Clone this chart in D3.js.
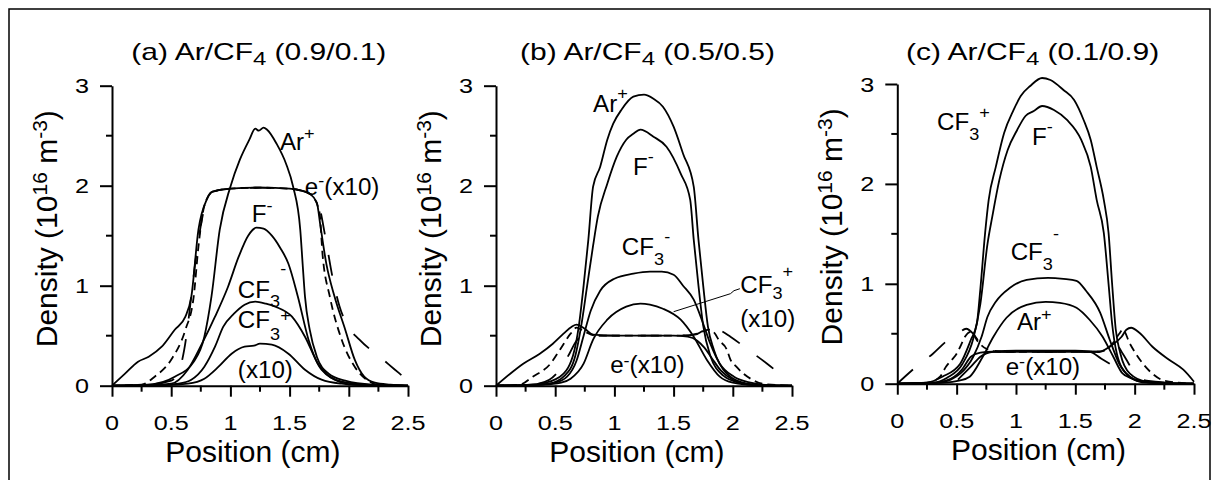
<!DOCTYPE html>
<meta charset="utf-8">
<style>
 body { margin: 0; background: #fff; }
 text { font-family: Arial, "Liberation Sans", sans-serif; fill: #000; }
 .curve { fill: none; stroke: #000; stroke-width: 1.8; stroke-linejoin: round; }
 .axis path, .axis line { stroke: #000; stroke-width: 2; }
</style>
<body>
<div id="chart"></div>
<script src="https://d3js.org/d3.v7.min.js"></script>
<script>
// tick values
var xTicks = [0, 0.5, 1, 1.5, 2, 2.5];
var xMinor = [0.25, 0.75, 1.25, 1.75, 2.25];
var yTicks = [0, 1, 2, 3];
var yMinor = [0.5, 1.5, 2.5];

// ---- panel (a) Ar/CF4 0.9/0.1 ----
var aArp = [[0,0],[0.3,0.01],[0.53,0.09],[0.69,0.24],[0.78,0.49],[0.84,0.89],[0.91,1.56],[1.0,1.99],[1.08,2.26],[1.16,2.46],[1.21,2.57],[1.24,2.55],[1.28,2.58],[1.31,2.56],[1.39,2.42],[1.47,2.22],[1.53,1.99],[1.59,1.56],[1.61,1.22],[1.63,0.89],[1.67,0.56],[1.73,0.29],[1.83,0.12],[1.97,0.05],[2.2,0.01],[2.5,0]];
var aFm = [[0,0],[0.3,0.005],[0.5,0.02],[0.64,0.16],[0.76,0.42],[0.87,0.69],[0.98,0.99],[1.07,1.29],[1.15,1.5],[1.22,1.58],[1.28,1.57],[1.35,1.5],[1.42,1.38],[1.49,1.22],[1.57,0.89],[1.66,0.46],[1.77,0.16],[1.94,0.04],[2.2,0.005],[2.5,0]];
var aCF3m = [[0,0],[0.4,0.005],[0.56,0.02],[0.67,0.06],[0.78,0.19],[0.87,0.39],[0.94,0.59],[1.03,0.72],[1.12,0.81],[1.21,0.84],[1.3,0.82],[1.38,0.79],[1.52,0.69],[1.63,0.49],[1.74,0.22],[1.88,0.06],[2.05,0.01],[2.5,0]];
var aCF3p = [[0,0],[0.45,0.005],[0.64,0.02],[0.78,0.07],[0.9,0.19],[1.01,0.32],[1.12,0.39],[1.2,0.4],[1.25,0.42],[1.35,0.41],[1.49,0.32],[1.63,0.16],[1.77,0.06],[1.94,0.02],[2.2,0.003],[2.5,0]];
var aESolid = [[0,0],[0.11,0.12],[0.22,0.24],[0.31,0.29],[0.42,0.39],[0.53,0.56],[0.62,0.69],[0.67,0.89],[0.73,1.56],[0.8,1.86],[0.85,1.94],[1.0,1.97],[1.25,1.98],[1.5,1.97],[1.6,1.95],[1.67,1.92],[1.73,1.83],[1.76,1.6],[1.81,1.22],[1.88,0.89],[1.97,0.56],[2.05,0.26],[2.13,0.09],[2.22,0.03],[2.35,0.01],[2.5,0]];
var aELong = [[0,0],[0.3,0.01],[0.5,0.05],[0.58,0.2],[0.61,0.36],[0.64,0.6],[0.67,0.9],[0.71,1.29],[0.75,1.6],[0.8,1.86],[0.85,1.94],[1.0,1.97],[1.25,1.98],[1.5,1.97],[1.67,1.92],[1.75,1.79],[1.8,1.5],[1.86,1.1],[1.92,0.8],[1.98,0.62],[2.09,0.46],[2.26,0.29],[2.39,0.16],[2.46,0.09]];
var aEShort = [[0,0],[0.25,0.01],[0.36,0.09],[0.5,0.26],[0.62,0.56],[0.69,0.89],[0.73,1.39],[0.78,1.8],[0.85,1.94],[1.0,1.97],[1.25,1.98],[1.5,1.97],[1.67,1.92],[1.75,1.75],[1.78,1.29],[1.84,0.89],[1.94,0.46],[2.05,0.19],[2.14,0.07],[2.25,0.01],[2.5,0]];

// ---- panel (b) Ar/CF4 0.5/0.5 ----
var bArp = [[0,0],[0.2,0.005],[0.37,0.02],[0.54,0.09],[0.65,0.3],[0.7,0.6],[0.74,1.0],[0.78,1.46],[0.82,1.99],[0.88,2.19],[0.94,2.46],[0.99,2.62],[1.06,2.76],[1.16,2.89],[1.25,2.91],[1.33,2.87],[1.41,2.79],[1.5,2.59],[1.58,2.32],[1.67,1.99],[1.71,1.46],[1.75,1.0],[1.79,0.59],[1.84,0.36],[1.95,0.12],[2.12,0.02],[2.3,0.003],[2.5,0]];
var bFm = [[0,0],[0.3,0.005],[0.45,0.02],[0.58,0.1],[0.67,0.3],[0.72,0.6],[0.77,1.0],[0.82,1.4],[0.86,1.69],[0.94,2.02],[1.02,2.29],[1.1,2.46],[1.16,2.52],[1.22,2.56],[1.33,2.49],[1.44,2.39],[1.56,2.12],[1.64,1.86],[1.67,1.46],[1.71,1.0],[1.75,0.6],[1.81,0.3],[1.92,0.1],[2.05,0.03],[2.2,0.005],[2.5,0]];
var bCF3m = [[0,0],[0.35,0.01],[0.5,0.03],[0.6,0.09],[0.68,0.25],[0.74,0.5],[0.8,0.75],[0.88,0.95],[1.0,1.07],[1.16,1.12],[1.3,1.14],[1.4,1.14],[1.5,1.11],[1.58,1.0],[1.67,0.86],[1.75,0.62],[1.81,0.42],[1.89,0.22],[2.01,0.09],[2.15,0.03],[2.3,0.005],[2.5,0]];
var bCF3p = [[0,0],[0.4,0.01],[0.55,0.03],[0.63,0.07],[0.74,0.22],[0.82,0.46],[0.94,0.66],[1.1,0.79],[1.22,0.82],[1.3,0.81],[1.41,0.77],[1.56,0.66],[1.67,0.49],[1.78,0.26],[1.89,0.09],[2.0,0.03],[2.2,0.005],[2.5,0]];
var bESolid = [[0,0],[0.12,0.12],[0.23,0.22],[0.37,0.32],[0.48,0.42],[0.57,0.52],[0.64,0.59],[0.68,0.61],[0.75,0.57],[0.82,0.51],[1.0,0.5],[1.5,0.5],[1.62,0.49],[1.7,0.45],[1.76,0.38],[1.82,0.28],[1.9,0.15],[2.0,0.06],[2.15,0.01],[2.5,0]];
var bELong = [[0,0],[0.3,0.01],[0.45,0.06],[0.55,0.18],[0.62,0.32],[0.68,0.45],[0.75,0.5],[1.0,0.5],[1.5,0.5],[1.68,0.51],[1.75,0.55],[1.83,0.58],[1.9,0.55],[1.98,0.49],[2.13,0.36],[2.29,0.22],[2.43,0.09],[2.47,0.06]];
var bEShort = [[0,0],[0.2,0.01],[0.31,0.09],[0.46,0.22],[0.54,0.36],[0.63,0.52],[0.68,0.58],[0.75,0.54],[0.85,0.5],[1.6,0.5],[1.7,0.52],[1.8,0.56],[1.85,0.52],[1.88,0.46],[1.95,0.36],[1.98,0.26],[2.03,0.19],[2.09,0.12],[2.15,0.07],[2.25,0.02],[2.5,0]];

// ---- panel (c) Ar/CF4 0.1/0.9 ----
var cCF3p = [[0,0],[0.25,0.01],[0.38,0.07],[0.53,0.2],[0.62,0.44],[0.67,0.6],[0.7,0.95],[0.74,1.51],[0.77,1.84],[0.83,2.17],[0.9,2.51],[0.98,2.74],[1.04,2.88],[1.12,2.98],[1.22,3.06],[1.29,3.04],[1.4,2.94],[1.49,2.84],[1.57,2.64],[1.63,2.44],[1.68,2.17],[1.74,1.84],[1.78,1.51],[1.81,1.0],[1.84,0.55],[1.88,0.3],[1.96,0.1],[2.1,0.02],[2.3,0.005],[2.5,0]];
var cFm = [[0,0],[0.3,0.01],[0.42,0.06],[0.55,0.2],[0.64,0.45],[0.7,0.8],[0.76,1.4],[0.8,1.67],[0.86,2.04],[0.93,2.34],[1.01,2.54],[1.08,2.68],[1.15,2.73],[1.22,2.78],[1.32,2.74],[1.43,2.64],[1.55,2.44],[1.63,2.17],[1.68,1.84],[1.74,1.51],[1.78,1.0],[1.81,0.6],[1.85,0.3],[1.93,0.1],[2.05,0.02],[2.3,0.005],[2.5,0]];
var cCF3m = [[0,0],[0.35,0.01],[0.45,0.04],[0.53,0.1],[0.64,0.27],[0.71,0.47],[0.76,0.67],[0.83,0.82],[0.95,0.96],[1.09,1.04],[1.27,1.06],[1.4,1.05],[1.51,1.03],[1.59,0.93],[1.71,0.71],[1.79,0.44],[1.87,0.2],[1.96,0.07],[2.1,0.01],[2.5,0]];
var cArp = [[0,0],[0.4,0.01],[0.52,0.03],[0.61,0.07],[0.72,0.27],[0.81,0.47],[0.92,0.66],[1.09,0.79],[1.25,0.82],[1.37,0.81],[1.51,0.76],[1.62,0.64],[1.73,0.47],[1.82,0.27],[1.9,0.1],[2.01,0.04],[2.2,0.005],[2.5,0]];
var cESolid = [[0,0],[0.3,0.01],[0.45,0.05],[0.55,0.15],[0.62,0.27],[0.7,0.31],[0.8,0.32],[1.7,0.32],[1.8,0.38],[1.89,0.47],[1.93,0.54],[1.97,0.56],[2.04,0.51],[2.15,0.37],[2.29,0.24],[2.41,0.14],[2.5,0.02]];
var cELong = [[0,0],[0.16,0.17],[0.3,0.3],[0.43,0.44],[0.51,0.5],[0.58,0.55],[0.64,0.5],[0.7,0.4],[0.78,0.34],[0.9,0.32],[1.7,0.32],[1.78,0.34],[1.85,0.38],[1.9,0.3],[1.95,0.2],[2.0,0.1],[2.1,0.03],[2.5,0]];
var cETrunc = [[0.51,0.04],[0.62,0.17],[0.7,0.27],[0.81,0.32],[1.0,0.33],[1.5,0.33],[1.62,0.32],[1.72,0.25],[1.79,0.2]];
var cEShort = [[0,0],[0.25,0.01],[0.36,0.07],[0.41,0.17],[0.46,0.24],[0.5,0.3],[0.53,0.37],[0.57,0.47],[0.62,0.52],[0.68,0.42],[0.75,0.35],[0.85,0.32],[1.7,0.32],[1.8,0.38],[1.87,0.5],[1.9,0.54],[1.96,0.4],[2.01,0.3],[2.07,0.2],[2.15,0.1],[2.25,0.03],[2.5,0]];

// leader line for the CF3+ label in (b)
var bLeader = [[1.5,0.74],[1.98,0.92],[2.01,0.95],[2.06,0.97]];

var titles = [
  ["(a) Ar/CF", "4", " (0.9/0.1)"],
  ["(b) Ar/CF", "4", " (0.5/0.5)"],
  ["(c) Ar/CF", "4", " (0.1/0.9)"]
];

(function(){
  var width = 1214, height = 480;
  var LONG = "21,21", SHORT = "8,5";

  var panels = [
    { left: 112, right: 408, top: 85.7, bottom: 385.7, titleX: 1.24,
      curves: [[aArp], [aFm], [aCF3m], [aCF3p], [aESolid], [aELong, LONG], [aEShort, SHORT]],
      labels: [
        [1.418, 2.357, [["Ar",1,0],["+",0.75,-11.5]]],
        [1.629, 1.907, [["e",1,0],["-",0.75,-8.7],["(x10)",1,0]]],
        [1.181, 1.64, [["F",1,0],["-",0.75,-10.7]]],
        [1.063, 0.877, [["CF",1,0],["3",0.75,8.7],["-",0.75,-23.7]]],
        [1.063, 0.577, [["CF",1,0],["3",0.75,12],["+",0.75,-7.5]]],
        [1.063, 0.077, [["(x10)",1,0]]]
      ] },
    { left: 496, right: 792, top: 85.7, bottom: 385.7, titleX: 1.28,
      curves: [[bArp], [bFm], [bCF3m], [bCF3p], [bESolid], [bELong, LONG], [bEShort, SHORT]],
      leader: bLeader,
      labels: [
        [0.82, 2.74, [["Ar",1,0],["+",0.75,-13.2]]],
        [1.158, 2.107, [["F",1,0],["-",0.75,-12.7]]],
        [1.063, 1.307, [["CF",1,0],["3",0.75,10],["-",0.75,-12.7]]],
        [2.063, 0.924, [["CF",1,0],["3",0.75,6],["+",0.75,-16]]],
        [2.063, 0.587, [["(x10)",1,0]]],
        [0.964, 0.124, [["e",1,0],["-",0.75,-7.3],["(x10)",1,0]]]
      ] },
    { left: 897.3, right: 1194, top: 84, bottom: 383.7, titleX: 1.14,
      curves: [[cCF3p], [cFm], [cCF3m], [cArp], [cESolid], [cETrunc], [cELong, LONG], [cEShort, SHORT]],
      labels: [
        [0.334, 2.542, [["CF",1,0],["3",0.75,10],["+",0.75,-11.5]]],
        [1.135, 2.392, [["F",1,0],["-",0.75,-12.7]]],
        [0.955, 1.239, [["CF",1,0],["3",0.75,10],["-",0.75,-20.7]]],
        [1.008, 0.538, [["Ar",1,0],["+",0.75,-9.5]]],
        [0.913, 0.087, [["e",1,0],["-",0.75,-7.7],["(x10)",1,0]]]
      ] }
  ];

  var svg = d3.select("#chart").append("svg")
      .attr("width", width)
      .attr("height", height);

  svg.append("rect")
      .attr("x", 9).attr("y", 9)
      .attr("width", 1201).attr("height", 490)
      .attr("fill", "none").attr("stroke", "#000").attr("stroke-width", 1.5);

  function addLabel(g, px, py, parts, size, sx) {
    var t = g.append("text")
        .attr("transform", "translate(" + px + "," + py + ") scale(" + sx + ",1)")
        .style("font-size", size + "px");
    var cur = 0;
    parts.forEach(function(p) {
      t.append("tspan").attr("dy", p[2] - cur)
          .style("font-size", (p[1] * size) + "px").text(p[0]);
      cur = p[2];
    });
    return t;
  }

  panels.forEach(function(p, i) {
    var x = d3.scaleLinear().domain([0, 2.5]).range([p.left, p.right]);
    var y = d3.scaleLinear().domain([0, 3]).range([p.bottom, p.top]);
    var g = svg.append("g");

    // axes
    var xa = g.append("g").attr("class", "axis")
        .attr("transform", "translate(0," + p.bottom + ")")
        .call(d3.axisBottom(x).tickValues(xTicks).tickSize(11).tickSizeOuter(0).tickFormat(""));
    xa.append("g").selectAll("line").data(xMinor).enter().append("line")
        .attr("x1", x).attr("x2", x).attr("y1", 0).attr("y2", 6)
        .attr("stroke", "#000").attr("stroke-width", 2);
    var ya = g.append("g").attr("class", "axis")
        .attr("transform", "translate(" + p.left + ",0)")
        .call(d3.axisLeft(y).tickValues(yTicks).tickSize(12).tickSizeOuter(0).tickFormat(""));
    ya.append("g").selectAll("line").data(yMinor).enter().append("line")
        .attr("y1", y).attr("y2", y).attr("x1", 0).attr("x2", -6)
        .attr("stroke", "#000").attr("stroke-width", 2);

    // tick labels
    xTicks.forEach(function(v) {
      addLabel(g, x(v), p.bottom + 44, [[d3.format("")(v), 1, 0]], 21, 1.2)
          .attr("text-anchor", "middle");
    });
    yTicks.forEach(function(v) {
      addLabel(g, p.left - 23, y(v) + 7.5, [[String(v), 1, 0]], 21, 1.2)
          .attr("text-anchor", "end");
    });

    // axis titles
    g.append("text")
        .attr("x", x(1.19)).attr("y", p.bottom + 76)
        .attr("text-anchor", "middle")
        .style("font-size", "30px")
        .text("Position (cm)");
    var yt = g.append("text")
        .attr("transform", "translate(" + (p.left - 55) + "," + y(1.57) + ") rotate(-90)")
        .attr("text-anchor", "middle")
        .style("font-size", "30px");
    yt.append("tspan").text("Density (10");
    yt.append("tspan").attr("dy", -10).style("font-size", "21px").text("16");
    yt.append("tspan").attr("dy", 10).text(" m");
    yt.append("tspan").attr("dy", -10).style("font-size", "21px").text("-3");
    yt.append("tspan").attr("dy", 10).text(")");

    // title
    addLabel(g, x(p.titleX), 60, [[titles[i][0],1,0],[titles[i][1],0.8,5],[titles[i][2],1,0]], 24, 1.25)
        .attr("text-anchor", "middle");

    // curves
    var line = d3.line()
        .x(function(d) { return x(d[0]); })
        .y(function(d) { return y(d[1]); })
        .curve(d3.curveMonotoneX);
    p.curves.forEach(function(c) {
      g.append("path").attr("class", "curve")
          .attr("d", line(c[0]))
          .attr("stroke-dasharray", c[1] || null);
    });

    if (p.leader) {
      g.append("path")
          .attr("d", d3.line().x(function(d) { return x(d[0]); }).y(function(d) { return y(d[1]); })(p.leader))
          .attr("fill", "none").attr("stroke", "#000").attr("stroke-width", 1);
    }

    // curve labels
    p.labels.forEach(function(l) {
      addLabel(g, x(l[0]), y(l[1]), l[2], 23, 1.05);
    });
  });
})();
</script>
</body>
